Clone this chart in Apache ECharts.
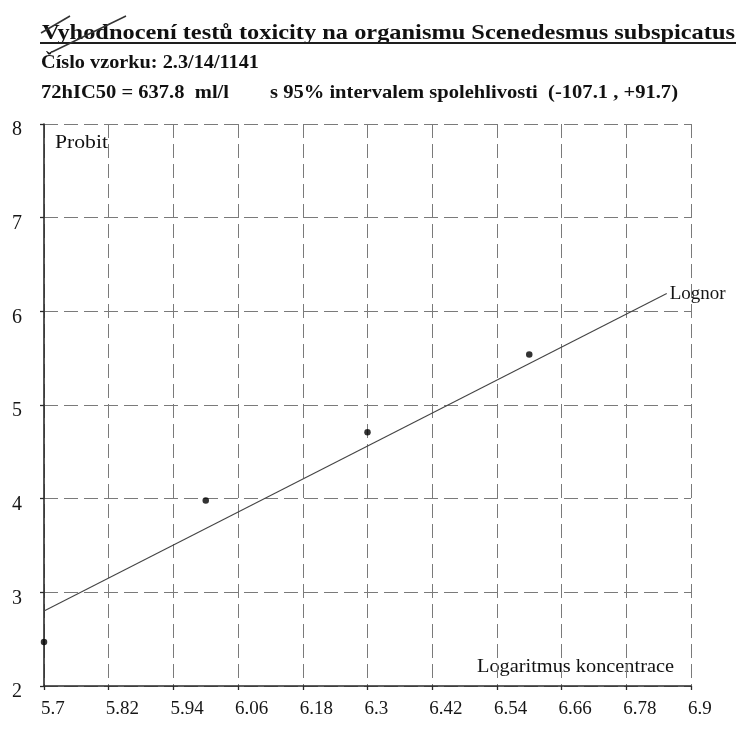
<!DOCTYPE html>
<html>
<head>
<meta charset="utf-8">
<script src="https://cdn.jsdelivr.net/npm/echarts@6/dist/echarts.min.js"></script>
<style>
  html, body { margin: 0; padding: 0; background: #fff; }
  #chart { width: 739px; height: 736px; }
</style>
</head>
<body>
<div id="chart"></div>
<script>
// Probit vs. ln(concentration) for the Scenedesmus subspicatus 72h test
const titleText = 'Vyhodnocení testů toxicity na organismu Scenedesmus subspicatus';
const sampleText = 'Číslo vzorku: 2.3/14/1141';
const ic50Text = '72hIC50 = 637.8  ml/l';
const intervalText = 's 95% intervalem spolehlivosti  (-107.1 , +91.7)';
const yAxisTitle = 'Probit';
const xAxisTitle = 'Logaritmus koncentrace';
const fitName = 'Lognor';

// measured points: [log concentration, probit]
const measuredPoints = [
  [5.7, 2.47],
  [6.0, 3.98],
  [6.3, 4.71],
  [6.6, 5.54]
];

// fitted lognormal regression line (end points)
const fitLine = [
  [5.7, 2.80],
  [6.855, 6.19]
];

const xMin = 5.7, xMax = 6.9, xStep = 0.12;
const yMin = 2, yMax = 8, yStep = 1;

const serif = '"Liberation Serif", "DejaVu Serif", serif';
const ink = '#161616';
const gridGray = '#7a7a7a';

const chart = echarts.init(document.getElementById('chart'), null, { renderer: 'canvas' });

// horizontal scale that makes a text line span the given width
function fitScale(text, font, target) {
  const c = document.createElement('canvas').getContext('2d');
  c.font = font;
  const w = c.measureText(text).width;
  return w > 0 ? target / w : 1;
}

const titleFont = 'bold 22px "Liberation Serif"';
const headFont = 'bold 19px "Liberation Serif"';
const noteFont = '19px "Liberation Serif"';

function headerText(text, font, left, top, width) {
  return {
    type: 'text', x: left, y: top,
    scaleX: fitScale(text, font, width),
    style: { text: text, font: font, fill: '#111' }
  };
}

chart.setOption({
  backgroundColor: '#ffffff',
  animation: false,
  grid: { left: 44, right: 48, top: 124, bottom: 50 },
  xAxis: {
    type: 'value',
    min: xMin, max: xMax, interval: xStep,
    axisLine: { show: true, onZero: false, lineStyle: { color: '#2a2a2a', width: 1.6 } },
    axisTick: { show: true, length: 4, lineStyle: { color: '#2a2a2a', width: 1.3 } },
    axisLabel: {
      color: ink, fontFamily: serif, fontSize: 19, margin: 14,
      align: 'left', padding: [0, 0, 0, -3]
    },
    splitLine: { show: true, lineStyle: { color: gridGray, type: [14, 6], width: 1 } }
  },
  yAxis: {
    type: 'value',
    min: yMin, max: yMax, interval: yStep,
    axisLine: { show: true, onZero: false, lineStyle: { color: '#2a2a2a', width: 1.6 } },
    axisTick: { show: true, length: 4, lineStyle: { color: '#2a2a2a', width: 1.3 } },
    axisLabel: {
      color: ink, fontFamily: serif, fontSize: 20, margin: 22,
      verticalAlign: 'top', lineHeight: 12
    },
    splitLine: { show: true, lineStyle: { color: gridGray, type: [14, 6], width: 1 } }
  },
  series: [
    {
      name: fitName,
      type: 'line',
      data: fitLine,
      symbol: 'none',
      lineStyle: { color: '#444', width: 1.1 },
      endLabel: {
        show: true,
        formatter: fitName,
        color: ink,
        fontFamily: serif,
        fontSize: 19,
        distance: 3
      },
      z: 3
    },
    {
      name: 'measured',
      type: 'scatter',
      data: measuredPoints,
      symbol: 'circle',
      symbolSize: 6.5,
      itemStyle: { color: '#000' },
      z: 4
    }
  ],
  graphic: [
    headerText(titleText, titleFont, 42, 22, 693),
    {
      type: 'rect', shape: { x: 40, y: 42, width: 696, height: 2 },
      style: { fill: '#1e1e1e' }
    },
    {
      type: 'polyline', shape: { points: [[41, 33], [70, 16]] },
      style: { stroke: '#333', lineWidth: 1.6, fill: null }
    },
    {
      type: 'polyline', shape: { points: [[52, 52], [126, 16]] },
      style: { stroke: '#333', lineWidth: 1.4, fill: null }
    },
    headerText(sampleText, headFont, 41, 54, 218),
    headerText(ic50Text, headFont, 41, 84, 188),
    headerText(intervalText, headFont, 270, 84, 408),
    headerText(yAxisTitle, noteFont, 55, 134, 53),
    headerText(xAxisTitle, noteFont, 477, 658, 197)
  ]
});
</script>
</body>
</html>
